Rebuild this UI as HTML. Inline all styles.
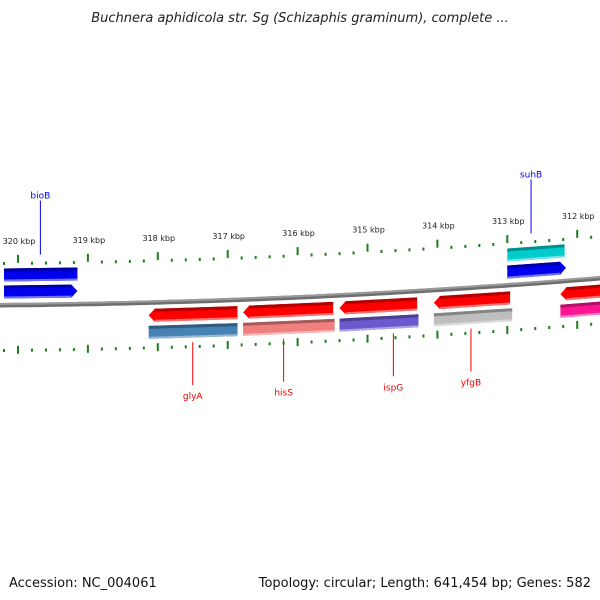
<!DOCTYPE html>
<html><head><meta charset="utf-8"><style>
body{margin:0;background:#fff;}
svg{display:block;font-family:"DejaVu Sans","Liberation Sans",sans-serif;}
</style></head><body>
<svg id="map" width="600" height="600" viewBox="0 0 600 600">
<text x="300" y="22" text-anchor="middle" font-size="13" font-style="italic" fill="#222">Buchnera aphidicola str. Sg (Schizaphis graminum), complete ...</text>
<g id="layer"></g>
<text x="9" y="587" font-size="13" fill="#111">Accession: NC_004061</text>
<text x="591" y="587" text-anchor="end" font-size="13" fill="#111">Topology: circular; Length: 641,454 bp; Genes: 582</text>
</svg>
<script>
const tickKbp=[320,319,318,317,316,315,314,313,312];
const geneNames=["bioB","bioB-cds","suhB","suhB-cds","glyA","glyA-cds","hisS","hisS-cds","ispG","ispG-cds","yfgB","yfgB-cds","next","next-cds"];
const geneStart=[320.2,320.2,313.0,313.0,318.13,318.13,316.78,316.78,315.4,315.4,314.05,314.05,312.24,312.24];
const geneEnd=[319.15,319.15,312.18,312.16,316.86,316.86,315.49,315.47,314.29,314.27,312.96,312.93,311.5,311.5];
const geneRow=[-30,-13,-30,-13,13,30,13,30,13,30,13,30,13,30];
const geneKind=["box","fwd","box","fwd","rev","box","rev","box","rev","box","rev","box","rev","box"];
const geneColor=["#0000ee","#0000ee","#00cccc","#0000ee","#ff0000","#4682b4","#ff0000","#f08080","#ff0000","#6a5acd","#ff0000","#bebebe","#ff0000","#ff1493"];
const labelNames=["bioB","suhB","glyA","hisS","ispG","yfgB"];
const labelKbp=[319.68,312.66,317.5,316.2,314.63,313.52];
const labelSide=[-1,-1,1,1,1,1];

const NS="http://www.w3.org/2000/svg";
const L=document.getElementById('layer');
const X=k=>18+(320-k)*69.9;
const Y=x=>305-0.00833*x-0.000061*x*x;
function el(t,a,p){const e=document.createElementNS(NS,t);for(const k in a)e.setAttribute(k,a[k]);(p||L).appendChild(e);return e;}
function poly(pts,fill,name){const e=el('polygon',{points:pts.map(p=>p[0].toFixed(1)+','+p[1].toFixed(1)).join(' '),fill:fill});

return e;}
function shade(c,f){const n=parseInt(c.slice(1),16);let r=n>>16,g=(n>>8)&255,b=n&255;
const m=v=>Math.max(0,Math.min(255,Math.round(f<1?v*f:v+(255-v)*(f-1))));return `rgb(${m(r)},${m(g)},${m(b)})`;}

// backbone
const bb=[],bb2=[];for(let x=0;x<=600;x+=10){bb.push([x,Y(x)-2]);}for(let x=600;x>=0;x-=10){bb.push([x,Y(x)+2.5]);}
poly(bb,'#6e6e6e','backbone');
const bt=[];for(let x=0;x<=600;x+=10)bt.push([x,Y(x)-2]);for(let x=600;x>=0;x-=10)bt.push([x,Y(x)]);
poly(bt,'#9a9a9a','backbone-highlight');

// ticks
for(let k=320.4;k>=311.4;k-=0.2){const kk=Math.round(k*10)/10;const x=X(kk);if(x<0||x>600)continue;
 const major=Math.abs(kk-Math.round(kk))<0.01;const y=Y(x);
 const t1=el('rect',{x:x-1,y:major?y-50:y-43,width:2,height:major?8:3,fill:'#1a7f1a'});
 
 
 const t2=el('rect',{x:x-1,y:major?y+41:y+44,width:2,height:major?8:3,fill:'#1a7f1a'});
 
 }
tickKbp.forEach(k=>{const x=X(k);const t=el('text',{x:x+1,y:Y(x)-61,'font-size':8,'text-anchor':'middle',fill:'#222'});t.textContent=k+' kbp';
 
 });

// genes
geneNames.forEach((n,i)=>{let x1=X(geneStart[i]),x2=Math.min(X(geneEnd[i]),606);const c=geneRow[i],h=6.5,a=6;
 const col=geneColor[i],kind=geneKind[i];const top=x=>Y(x)+c-h,bot=x=>Y(x)+c+h,mid=x=>Y(x)+c;
 let pts;
 if(kind==='box')pts=[[x1,top(x1)],[x2,top(x2)],[x2,bot(x2)],[x1,bot(x1)]];
 else if(kind==='fwd')pts=[[x1,top(x1)],[x2-a,top(x2-a)],[x2,mid(x2)],[x2-a,bot(x2-a)],[x1,bot(x1)]];
 else pts=[[x1,mid(x1)],[x1+a,top(x1+a)],[x2,top(x2)],[x2,bot(x2)],[x1+a,bot(x1+a)]];
 const g=el('g',{});
 const p=poly(pts,col,'gene-body');g.appendChild(p);
 const xs=kind==='rev'?x1+a:x1,xe=kind==='fwd'?x2-a:x2;
 const d=poly([[xs,top(xs)],[xe,top(xe)],[xe,top(xe)+3],[xs,top(xs)+3]],shade(col,0.7),'gene-shadow');g.appendChild(d);
 const l=poly([[xs,bot(xs)-2],[xe,bot(xe)-2],[xe,bot(xe)],[xs,bot(xs)]],shade(col,1.45),'gene-highlight');g.appendChild(l);
});

// labels
labelNames.forEach((n,i)=>{const x=X(labelKbp[i]);const s=labelSide[i];const col=s<0?'#0000ee':'#ee0000';
 const y=Y(x);let ly1,ly2,ty;
 if(s<0){ly1=y-50;ly2=y-104;ty=y-106;}else{ly1=y+41;ly2=y+84;ty=y+98;}
 const ln=el('line',{x1:x,y1:ly1,x2:x,y2:ly2,stroke:col,'stroke-width':1});
 
 
 const t=el('text',{x:x,y:ty,'font-size':9,'text-anchor':'middle',fill:col});t.textContent=n;
 
 });
</script>
</body></html>
